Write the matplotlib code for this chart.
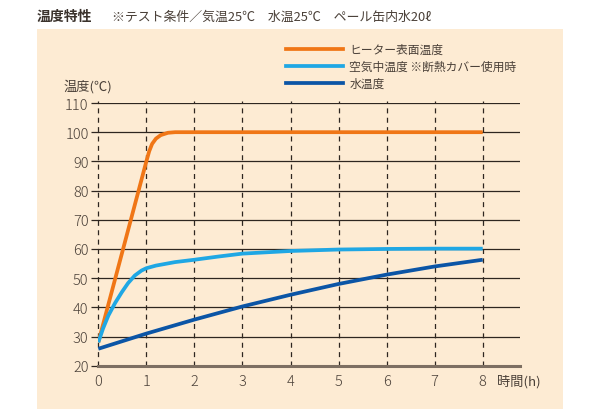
import matplotlib
matplotlib.use("Agg")
import matplotlib.pyplot as plt
from matplotlib.patches import Rectangle
from matplotlib.lines import Line2D

plt.rcParams["font.family"] = ["Noto Sans CJK JP", "DejaVu Sans"]

# --- data ------------------------------------------------------------------
heater_x = [0, 1.0, 1.06, 1.12, 1.2, 1.3, 1.45, 1.6, 8]
heater_y = [28.0, 90.0, 93.5, 96.0, 97.8, 99.0, 99.8, 100.0, 100.0]

air_x = [0, 0.1, 0.21, 0.35, 0.49, 0.62, 0.76, 0.9, 1.0, 1.2, 1.6, 2.0, 2.5, 3.0, 4.0, 5.0, 6.0, 7.0, 8.0]
air_y = [28.0, 32.8, 37.2, 41.5, 45.2, 48.3, 50.9, 52.6, 53.4, 54.3, 55.5, 56.3, 57.4, 58.4, 59.3, 59.8, 60.0, 60.1, 60.1]

water_x = [0, 1, 2, 3, 4, 5, 6, 7, 8]
water_y = [25.8, 31.0, 35.8, 40.3, 44.3, 48.0, 51.2, 54.0, 56.3]

labels = ["ヒーター表面温度", "空気中温度 ※断熱カバー使用時", "水温度"]
colors = ["#f07616", "#1fa7e4", "#0b55a6"]

x_ticks = list(range(0, 9))
y_ticks = list(range(20, 111, 10))

title = "温度特性"
subtitle = "※テスト条件／気温25℃　水温25℃　ペール缶内水20ℓ"

W, H = 600, 410
txt = "#4a4038"
grid = "#2e2620"
axis_c = "#7d6f62"

fig = plt.figure(figsize=(W / 100, H / 100), dpi=100)
fig.patch.set_facecolor("white")
fig.patches.append(Rectangle((37 / W, 0), (563 - 37) / W, (H - 30) / H,
                             transform=fig.transFigure, facecolor="#fdebd3",
                             edgecolor="none", zorder=-10))

x0, x8 = 98.3, 482.7
px_per_h = (x8 - x0) / 8
left, right = x0 / W, 520 / W
bottom, top = (H - 366.7) / H, (H - 104) / H
ax = fig.add_axes([left, bottom, right - left, top - bottom])
ax.set_zorder(2)
ax.set_facecolor("none")
ax.set_xlim(0, (520 - x0) / px_per_h)
ax.set_ylim(20, 110)

for s in ["top", "right", "left"]:
    ax.spines[s].set_visible(False)
ax.spines["bottom"].set_color(axis_c)
ax.spines["bottom"].set_linewidth(2.2)

for y in y_ticks[1:]:
    ax.axhline(y, color=grid, lw=0.9, zorder=1)
for x in x_ticks:
    ax.plot([x, x], [20, 110.8], color=grid, lw=0.9, ls=(0, (4, 3.5)),
            zorder=1, clip_on=False)

ax.plot(heater_x, heater_y, color=colors[0], lw=2.7, zorder=3, solid_capstyle="butt")
ax.plot(air_x, air_y, color=colors[1], lw=2.7, zorder=4, solid_capstyle="butt")
ax.plot(water_x, water_y, color=colors[2], lw=2.7, zorder=5, solid_capstyle="butt")

ax.set_yticks(y_ticks)
ax.set_yticklabels([str(v) for v in y_ticks], fontweight="light")
ax.set_xticks(x_ticks)
ax.set_xticklabels([str(v) for v in x_ticks], fontweight="light")
ax.tick_params(axis="y", length=5, width=0.9, color=grid, direction="out",
               pad=2, labelsize=10.5, labelcolor=txt)
ax.tick_params(axis="x", length=0, pad=6, labelsize=10.5, labelcolor=txt)

# axis titles
fig.text(63 / W, 1 - 86.7 / H, "温度(℃)", fontsize=9.5, color=txt, va="center", ha="left")
fig.text(497 / W, 1 - 381.5 / H, "時間(h)", fontsize=9.5, color=txt, va="center", ha="left")

# legend drawn by hand
leg_y = [50, 67.3, 84.3]
for c, lab, yy in zip(colors, labels, leg_y):
    fig.add_artist(Line2D([285.7 / W, 342.7 / W], [1 - yy / H, 1 - yy / H],
                          color=c, lw=2.7, transform=fig.transFigure))
    fig.text(349.3 / W, 1 - yy / H, lab, fontsize=8.5, color=txt,
             va="center", ha="left")

# heading
fig.text(37 / W, 1 - 17 / H, title, fontsize=10, fontweight="bold",
         color="#3a322c", va="center", ha="left")
fig.text(111.5 / W, 1 - 17 / H, subtitle, fontsize=9.3, color=txt,
         va="center", ha="left")

fig.savefig("out.png", dpi=100)
